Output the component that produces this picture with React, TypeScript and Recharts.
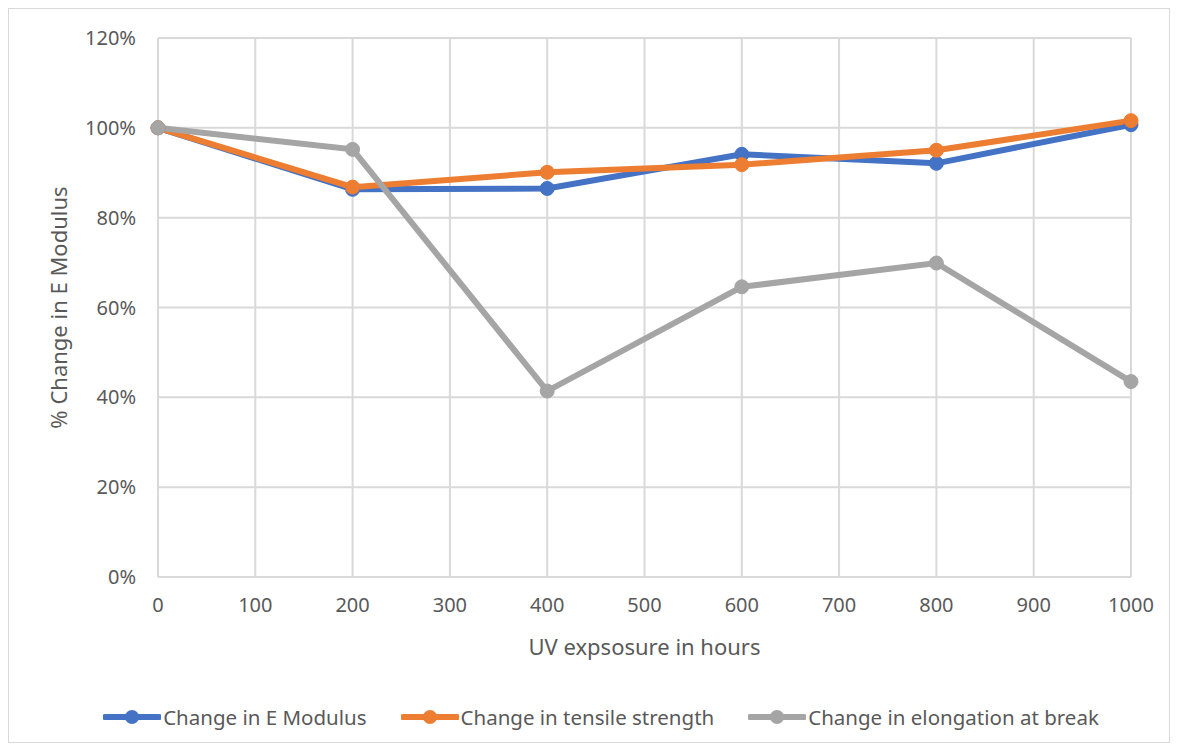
import { LineChart, Line, XAxis, YAxis, CartesianGrid, Legend } from "recharts";

const hours = [0, 200, 400, 600, 800, 1000];
const eModulus = [100, 86.3, 86.5, 94.1, 92.1, 100.7];
const tensileStrength = [100, 86.8, 90.1, 91.8, 95.0, 101.6];
const elongationAtBreak = [100, 95.2, 41.4, 64.6, 69.9, 43.5];
const xTicks = [0, 100, 200, 300, 400, 500, 600, 700, 800, 900, 1000];
const yTicks = [0, 20, 40, 60, 80, 100, 120];

const SERIES = [
  { key: "eModulus", name: "Change in E Modulus", color: "#4472C4" },
  { key: "tensile", name: "Change in tensile strength", color: "#ED7D31" },
  { key: "elongation", name: "Change in elongation at break", color: "#A5A5A5" },
];

const data = hours.map((h, i) => ({
  hours: h,
  eModulus: eModulus[i],
  tensile: tensileStrength[i],
  elongation: elongationAtBreak[i],
}));

const FONT = "'Noto Sans', 'Open Sans', sans-serif";
const TEXT = "#595959";

const LegendContent = () => (
  <div
    style={{
      display: "flex",
      justifyContent: "center",
      alignItems: "center",
      height: 50,
      gap: 34,
      paddingLeft: 62,
      boxSizing: "border-box",
      fontFamily: FONT,
      fontSize: 20.5,
      color: TEXT,
    }}
  >
    {SERIES.map((s) => (
      <div key={s.key} style={{ display: "flex", alignItems: "center" }}>
        <svg width={58} height={20} style={{ marginRight: 2 }}>
          <line x1={2} y1={10} x2={56} y2={10} stroke={s.color} strokeWidth={6} strokeLinecap="round" />
          <circle cx={29} cy={10} r={7} fill={s.color} />
        </svg>
        <span>{s.name}</span>
      </div>
    ))}
  </div>
);

export default function App() {
  return (
    <div
      style={{
        width: 1162,
        height: 735,
        border: "1px solid #d9d9d9",
        boxSizing: "border-box",
        background: "#fff",
      }}
    >
      <LineChart
        width={1160}
        height={733}
        data={data}
        margin={{ top: 29, right: 38, left: 0, bottom: 0 }}
      >
        <CartesianGrid stroke="#d9d9d9" strokeWidth={2} />
        <XAxis
          dataKey="hours"
          type="number"
          domain={[0, 1000]}
          ticks={xTicks}
          height={115}
          tickSize={0}
          tickMargin={21}
          axisLine={{ stroke: "#d9d9d9", strokeWidth: 2 }}
          tick={{ fill: TEXT, fontSize: 20, fontFamily: FONT }}
          label={{
            value: "UV expsosure in hours",
            position: "insideTop",
            offset: 62,
            fill: TEXT,
            fontSize: 22,
            fontFamily: FONT,
          }}
        />
        <YAxis
          type="number"
          domain={[0, 120]}
          ticks={yTicks}
          width={149}
          tickSize={0}
          tickMargin={22}
          axisLine={false}
          tickFormatter={(v) => `${v}%`}
          tick={{ fill: TEXT, fontSize: 20, fontFamily: FONT }}
          label={{
            value: "% Change in E Modulus",
            angle: -90,
            position: "insideLeft",
            offset: 50,
            style: { textAnchor: "middle" },
            fill: TEXT,
            fontSize: 22,
            fontFamily: FONT,
          }}
        />
        <Legend verticalAlign="bottom" height={50} content={<LegendContent />} />
        {SERIES.map((s) => (
          <Line
            key={s.key}
            dataKey={s.key}
            name={s.name}
            stroke={s.color}
            strokeWidth={6}
            dot={{ r: 7, fill: s.color, stroke: s.color, strokeWidth: 1 }}
            activeDot={false}
            isAnimationActive={false}
          />
        ))}
      </LineChart>
    </div>
  );
}
